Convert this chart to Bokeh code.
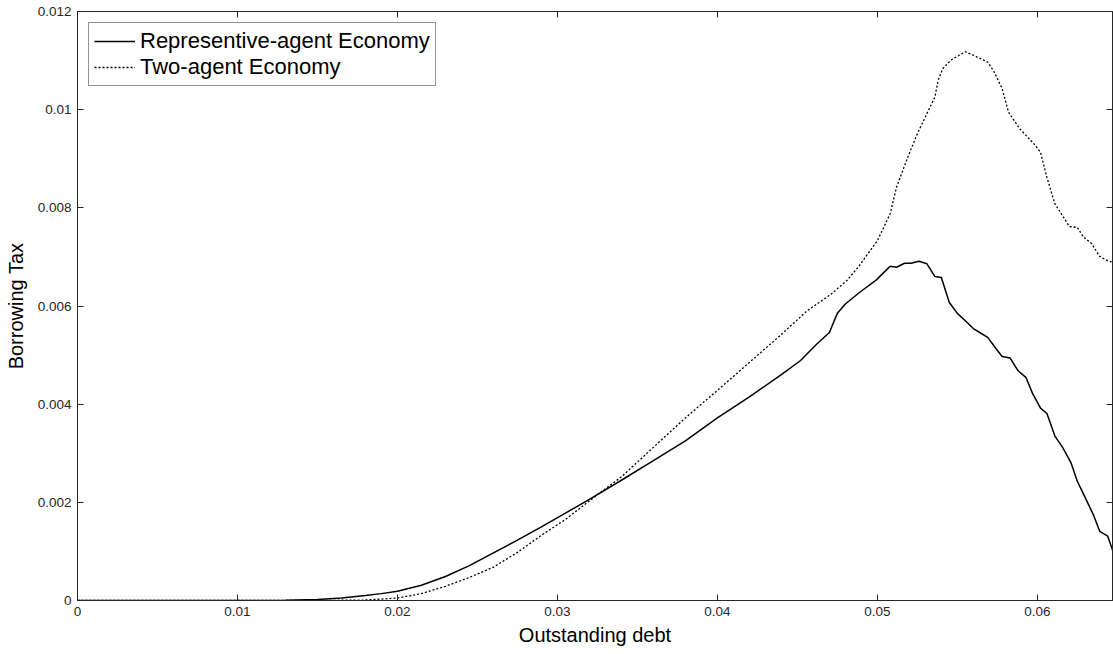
from bokeh.plotting import figure
from bokeh.models import (LinearAxis, FixedTicker, CustomJSTickFormatter, Legend,
                          LegendItem, Range1d, ColumnDataSource)
from bokeh.embed import file_html
from bokeh.resources import INLINE

# ---- data ----
rep_x = [0.0, 0.010, 0.013, 0.015, 0.0165, 0.018, 0.019, 0.020, 0.0215, 0.023, 0.0245,
         0.026, 0.0275, 0.029, 0.0305, 0.032, 0.034, 0.036, 0.038, 0.040, 0.042, 0.044,
         0.0452, 0.0462, 0.0470, 0.0475, 0.0480, 0.0489, 0.0499, 0.0503, 0.0508, 0.0512,
         0.0517, 0.0521, 0.0526, 0.0531, 0.0536, 0.0540, 0.0545, 0.0550, 0.0555, 0.0560,
         0.0564, 0.0569, 0.0574, 0.0578, 0.0583, 0.0588, 0.0593, 0.0597, 0.0602, 0.0606,
         0.0611, 0.0616, 0.0621, 0.0625, 0.0630, 0.0635, 0.0639, 0.0644, 0.0648]
rep_y = [0.0, 0.0, 0.000005, 0.00002, 0.00005, 0.0001, 0.00014, 0.00019, 0.00031, 0.00049,
         0.00071, 0.00097, 0.00123, 0.0015, 0.00178, 0.00206, 0.00245, 0.00285, 0.00325,
         0.00372, 0.00415, 0.0046, 0.00489, 0.00522, 0.00546, 0.00585, 0.00604, 0.00628,
         0.00652, 0.00665, 0.00681, 0.00679, 0.00687, 0.00687, 0.00691, 0.00686, 0.0066,
         0.00658, 0.00607, 0.00585, 0.0057, 0.00554, 0.00546, 0.00536, 0.00514, 0.00497,
         0.00494, 0.00468, 0.00454, 0.00422, 0.00392, 0.00381, 0.00335, 0.00311, 0.00281,
         0.00243, 0.00209, 0.00175, 0.00141, 0.00131, 0.00094]

two_x = [0.0, 0.015, 0.018, 0.020, 0.0215, 0.023, 0.0245, 0.026, 0.0275, 0.029, 0.0305,
         0.032, 0.034, 0.036, 0.038, 0.040, 0.042, 0.044, 0.0456, 0.0471, 0.0481, 0.0488,
         0.0500, 0.0508, 0.0512, 0.0519, 0.0525, 0.0531, 0.0536, 0.0538, 0.0541, 0.0546,
         0.0555, 0.0560, 0.0569, 0.0573, 0.0578, 0.0582, 0.0589, 0.0598, 0.0602, 0.0606,
         0.0611, 0.0615, 0.0620, 0.0625, 0.0629, 0.0634, 0.0639, 0.0644, 0.0648]
two_y = [0.0, 0.0, 0.00001, 0.00005, 0.00014, 0.00029, 0.00047, 0.00068, 0.00098, 0.00133,
         0.00165, 0.00203, 0.00252, 0.00312, 0.00372, 0.00428, 0.00485, 0.00542, 0.0059,
         0.00624, 0.00652, 0.00679, 0.00733, 0.00788, 0.00842, 0.00903, 0.00951, 0.00992,
         0.01026, 0.0106, 0.01084, 0.01101, 0.01118, 0.01111, 0.01097, 0.01077, 0.01043,
         0.00995, 0.00961, 0.0093, 0.00913, 0.00862, 0.00808, 0.00788, 0.00762, 0.0076,
         0.0074, 0.00727, 0.00701, 0.00692, 0.00689]

x_ticks = [0.0, 0.01, 0.02, 0.03, 0.04, 0.05, 0.06]
x_tick_labels = ["0", "0.01", "0.02", "0.03", "0.04", "0.05", "0.06"]
y_ticks = [0.0, 0.002, 0.004, 0.006, 0.008, 0.01, 0.012]
y_tick_labels = ["0", "0.002", "0.004", "0.006", "0.008", "0.01", "0.012"]

series_names = ["Representive-agent Economy", "Two-agent Economy"]
x_label = "Outstanding debt"
y_label = "Borrowing Tax"

FONT = "Liberation Sans"
AX = "#262626"

p = figure(width=1113, height=654, x_range=Range1d(0, 0.0647), y_range=Range1d(0, 0.012),
           output_backend="svg", toolbar_location=None,
           min_border_left=77, min_border_right=1, min_border_top=11, min_border_bottom=54,
           x_axis_label=x_label, y_axis_label=y_label)
p.xgrid.visible = False
p.ygrid.visible = False
p.outline_line_color = AX
p.background_fill_color = "white"
p.border_fill_color = "white"

def fmt(ticks, labels):
    return CustomJSTickFormatter(args=dict(t=ticks, l=labels), code="""
        for (let i = 0; i < t.length; i++) { if (Math.abs(t[i] - tick) < 1e-9) return l[i]; }
        return '';
    """)

def style(ax, ticks, labels, show):
    ax.ticker = FixedTicker(ticks=ticks)
    ax.formatter = fmt(ticks, labels if show else [""] * len(labels))
    ax.major_tick_in = 6
    ax.major_tick_out = 0
    ax.minor_tick_line_color = None
    ax.axis_line_color = AX
    ax.major_tick_line_color = AX
    ax.major_label_text_color = AX
    ax.major_label_text_font = FONT
    ax.major_label_text_font_size = "13.5px" if show else "0px"
    ax.major_label_standoff = 6 if show else 0
    ax.axis_label_text_font = FONT
    ax.axis_label_text_font_size = "20px"
    ax.axis_label_text_font_style = "normal"
    ax.axis_label_text_color = "black"

style(p.xaxis[0], x_ticks, x_tick_labels, True)
style(p.yaxis[0], y_ticks, y_tick_labels, True)
p.xaxis[0].axis_label_standoff = 5
p.yaxis[0].axis_label_standoff = 8

top = LinearAxis()
style(top, x_ticks, x_tick_labels, False)
p.add_layout(top, "above")
right = LinearAxis()
style(right, y_ticks, y_tick_labels, False)
p.add_layout(right, "right")

src_rep = ColumnDataSource(dict(x=rep_x, y=rep_y))
src_two = ColumnDataSource(dict(x=two_x, y=two_y))
r1 = p.line("x", "y", source=src_rep, line_color="black", line_width=1.5)
r2 = p.line("x", "y", source=src_two, line_color="black", line_width=1.3, line_dash="2 2")

legend = Legend(items=[LegendItem(label=series_names[0], renderers=[r1]),
                       LegendItem(label=series_names[1], renderers=[r2])],
                location="top_left")
legend.margin = 11
legend.padding = 5
legend.spacing = 0
legend.glyph_width = 41
legend.glyph_height = 26
legend.label_height = 26
legend.label_standoff = 5
legend.label_text_font = FONT
legend.label_text_font_size = "22px"
legend.label_text_color = "black"
legend.border_line_color = AX
legend.border_line_width = 1
legend.background_fill_color = "white"
legend.background_fill_alpha = 1
p.add_layout(legend)

open("out.html", "w").write(file_html(p, INLINE))
